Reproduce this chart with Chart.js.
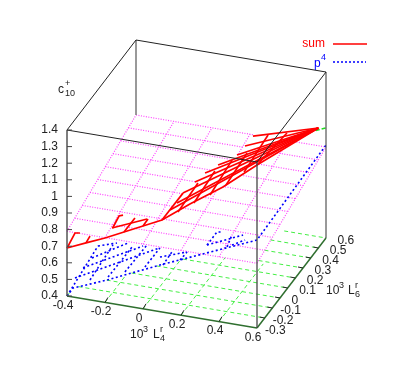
<!DOCTYPE html>
<html>
<head>
<meta charset="utf-8">
<script src="https://cdn.jsdelivr.net/npm/chart.js@4"></script>
<style>
  html, body { margin: 0; padding: 0; background: #fff; }
  canvas { display: block; }
</style>
</head>
<body>
<canvas id="surf" width="393" height="382"></canvas>
<script>
/* tick values */
const l4Ticks = [-0.4, -0.2, 0, 0.2, 0.4, 0.6];
const l6Ticks = [-0.3, -0.2, -0.1, 0, 0.1, 0.2, 0.3, 0.4, 0.5, 0.6];
const cTicks = [0.4, 0.5, 0.6, 0.7, 0.8, 0.9, 1, 1.1, 1.2, 1.3, 1.4];
const cBase = 0.4;
const cTop = 1.4;

/* sum surface, visible mesh lines: L4, L6 and c per line */
const sumL4 = [
  [-0.4, -0.3, -0.2, -0.1, 0, 0.1, 0.247, 0.421, 0.6, 0.6],
  [0.102, 0.6], [0.098, 0.6], [0.089, 0.6], [0.112, 0.6], [0.125, 0.6],
  [0.153, 0.6], [0.212, 0.6], [0.234, 0.6], [0.256, 0.6],
  [-0.4, -0.4, -0.374], [-0.3, -0.3], [-0.204, -0.019], [-0.2, -0.2, -0.179],
  [-0.1, -0.1], [0, 0],
  [0.1, 0.1], [0.184, 0.184], [0.268, 0.268], [0.353, 0.353], [0.437, 0.437],
  [0.532, 0.532], [0.6, 0.6]
];
const sumL6 = [
  [-0.3, -0.3, -0.3, -0.3, -0.3, -0.3, -0.3, -0.3, -0.3, 0.5],
  [-0.2, 0.5], [-0.1, 0.5], [0, 0.5], [0.1, 0.5], [0.2, 0.5],
  [0.3, 0.5], [0.4, 0.5], [0.45, 0.5], [0.5, 0.5],
  [-0.3, -0.196, -0.196], [-0.3, -0.248], [-0.2, -0.2], [-0.2, -0.117, -0.117],
  [-0.3, -0.157], [-0.3, -0.235],
  [-0.3, -0.026], [-0.3, -0.039], [-0.3, -0.026], [-0.3, -0.013], [-0.3, -0.026],
  [-0.3, 0.013], [-0.3, 0.091]
];
const sumC = [
  [0.689, 0.739, 0.788, 0.843, 0.899, 0.954, 1.079, 1.215, 1.382, 1.123],
  [0.955, 1.123], [0.936, 1.123], [0.934, 1.123], [0.945, 1.123], [0.941, 1.123],
  [0.934, 1.123], [0.946, 1.123], [0.974, 1.123], [1.008, 1.123],
  [0.689, 0.717, 0.722], [0.739, 0.749], [0.787, 0.877], [0.788, 0.81, 0.82],
  [0.843, 0.842], [0.899, 0.902],
  [0.954, 0.951], [1.019, 1.036], [1.089, 1.117], [1.154, 1.191], [1.23, 1.258],
  [1.326, 1.361], [1.382, 1.339]
];

/* p4 surface, visible mesh lines */
const p4L4 = [
  [-0.4, -0.368, -0.189, 0.089, 0.6, 0.6],
  [-0.4, -0.4], [-0.4, -0.084], [-0.4, 0.047], [-0.4, -0.211], [-0.4, -0.3],
  [-0.279, -0.279], [-0.184, -0.184], [-0.095, -0.095], [0.01, 0.01],
  [0.049, 0.191], [0.105, 0.105], [0.195, 0.195],
  [0.256, 0.446], [0.256, 0.256, 0.288], [0.422, 0.424], [0.448, 0.517]
];
const p4L6 = [
  [-0.3, -0.3, -0.3, -0.3, -0.3, 0.6],
  [-0.3, 0.104], [-0.091, -0.091], [-0.196, -0.196], [0.026, 0.026], [0.104, 0.104],
  [-0.3, 0], [-0.3, 0.013], [-0.3, -0.013], [-0.3, -0.104],
  [-0.2, -0.2], [-0.3, -0.183], [-0.3, -0.209],
  [-0.1, -0.1], [-0.1, 0.03, 0.03], [-0.25, -0.19], [-0.25, -0.25]
];
const p4C = [
  [0.4, 0.454, 0.537, 0.681, 0.93, 0.96],
  [0.4, 0.458], [0.444, 0.636], [0.446, 0.714], [0.433, 0.559], [0.458, 0.495],
  [0.52, 0.55], [0.556, 0.548], [0.604, 0.593], [0.654, 0.65],
  [0.661, 0.719], [0.684, 0.692], [0.731, 0.725],
  [0.713, 0.81], [0.713, 0.713, 0.719], [0.824, 0.86], [0.84, 0.884]
];

/* magenta surface: rows along L4, columns along L6, broken where the sum surface covers it */
const pinkL4 = [
  [-0.4, 0.6], [-0.4, 0.6], [-0.4, 0.6],
  [-0.4, 0.035], [0.088, 0.6], [-0.4, 0.046], [0.154, 0.6], [-0.4, 0.074], [0.217, 0.6],
  [-0.4, 0.111], [0.273, 0.6], [-0.4, 0.173], [0.313, 0.6], [-0.4, 0.206], [0.382, 0.6],
  [-0.4, 0.216], [0.431, 0.6],
  [-0.4, -0.4], [-0.2, -0.2], [0, 0], [0.2, 0.2], [0.2, 0.2], [0.4, 0.4], [0.6, 0.6]
];
const pinkL6 = [
  [-0.3, -0.3], [-0.2, -0.2], [-0.1, -0.1],
  [0, 0], [0, 0], [0.1, 0.1], [0.1, 0.1], [0.2, 0.2], [0.2, 0.2],
  [0.3, 0.3], [0.3, 0.3], [0.4, 0.4], [0.4, 0.4], [0.5, 0.5], [0.5, 0.5],
  [0.6, 0.6], [0.6, 0.6],
  [-0.3, 0.6], [-0.3, 0.6], [-0.3, 0.6], [-0.3, 0.165], [0.445, 0.6], [-0.3, 0.53], [-0.3, 0.6]
];
const pinkC = [
  [0.79, 0.79], [0.808, 0.808], [0.825, 0.825],
  [0.843, 0.843], [0.843, 0.843], [0.861, 0.861], [0.861, 0.861], [0.878, 0.878], [0.878, 0.878],
  [0.896, 0.896], [0.896, 0.896], [0.913, 0.913], [0.913, 0.913], [0.931, 0.931], [0.931, 0.931],
  [0.948, 0.948], [0.948, 0.948],
  [0.79, 0.948], [0.79, 0.948], [0.79, 0.948], [0.79, 0.872], [0.921, 0.948], [0.79, 0.936], [0.79, 0.948]
];

/* green base grid, only the part in sight */
const gridL4 = [
  [-0.4, -0.4], [-0.2, -0.2], [0, 0], [0.2, 0.2], [0.4, 0.4],
  [-0.38, 0.6], [-0.272, 0.6], [-0.181, 0.6], [-0.09, 0.6], [0.009, 0.6],
  [0.366, 0.6], [0.357, 0.6], [0.348, 0.6], [0.38, 0.6]
];
const gridL6 = [
  [-0.3, -0.26], [-0.3, -0.021], [-0.3, 0.198], [-0.3, 0.276], [-0.3, 0.277],
  [-0.2, -0.2], [-0.1, -0.1], [0, 0], [0.1, 0.1], [0.2, 0.2],
  [0.3, 0.3], [0.4, 0.4], [0.5, 0.5], [0.6, 0.6]
];
const tipL4 = [0.556, 0.6];
const tipL6 = [0.5, 0.6];
const tipC = [1.09, 1.063];

/* view: screen position of the box corner and the three axis directions */
function project(l4, l6, c) {
  const a = l4 + 0.4, b = l6 + 0.3, d = c - cBase;
  return { x: 67 + 190 * a + 76.67 * b, y: 296 + 32 * a - 100 * b - 166 * d };
}

function line(pts, color, width, dash) {
  return { data: pts, showLine: true, pointRadius: 0, borderColor: color, borderWidth: width, borderDash: dash || [], fill: false, tension: 0 };
}
function mesh(l4s, l6s, cs, color, width, dash) {
  return l4s.map((row, i) => line(row.map((v, j) => project(v, l6s[i][j], cs[i][j])), color, width, dash));
}
function edge(p, q, color, width) {
  return line([project(...p), project(...q)], color, width);
}
function nudge(p, dx, dy, color) {
  return line([p, { x: p.x + dx, y: p.y + dy }], color, 1);
}

const ink = '#222222';
const greenEdge = '#2f6f2f';
const datasets = [];

/* base grid */
datasets.push(...mesh(gridL4, gridL6, gridL4.map(r => r.map(() => cBase)), '#44ee44', 1, [4, 3]));
/* p4, then the magenta sheet, then sum */
datasets.push(...mesh(pinkL4, pinkL6, pinkC, '#ff44ff', 1.2, [1, 1.5]));
datasets.push(...mesh(p4L4, p4L6, p4C, '#0000ff', 1.6, [2, 2.5]));
datasets.push(line(tipL4.map((v, i) => project(v, tipL6[i], tipC[i])), '#22dd22', 1.6, [4, 2]));
datasets.push(...mesh(sumL4, sumL6, sumC, '#ff0000', 1.7));

/* box */
const [l0, l1] = [l4Ticks[0], l4Ticks[5]];
const [m0, m1] = [l6Ticks[0], l6Ticks[9]];
datasets.push(edge([l0, m0, cBase], [l1, m0, cBase], greenEdge, 1.5));
datasets.push(edge([l1, m0, cBase], [l1, m1, cBase], greenEdge, 1.5));
datasets.push(edge([l0, m0, cBase], [l0, m0, cTop], '#555555', 1.5));
datasets.push(edge([l1, m0, cBase], [l1, m0, cTop], '#444444', 1.3));
datasets.push(edge([l1, m1, cBase], [l1, m1, cTop], '#333333', 1));
datasets.push(edge([l0, m1, 0.948], [l0, m1, cTop], '#777777', 1.5));
datasets.push(edge([l0, m0, cTop], [l1, m0, cTop], ink, 1));
datasets.push(edge([l1, m0, cTop], [l1, m1, cTop], ink, 1));
datasets.push(edge([l1, m1, cTop], [l0, m1, cTop], ink, 1));
datasets.push(edge([l0, m1, cTop], [l0, m0, cTop], ink, 1));
/* tick marks */
cTicks.forEach(v => datasets.push(nudge(project(l0, m0, v), 5, 0, '#444444')));
l4Ticks.slice(1, 5).forEach(v => datasets.push(nudge(project(v, m0, cBase), 3, -5, ink)));
l6Ticks.slice(1, 9).forEach(v => datasets.push(nudge(project(l1, v, cBase), -5, -1, ink)));
/* legend samples */
datasets.push(line([{ x: 333, y: 44 }, { x: 367, y: 44 }], '#ff0000', 1.7));
datasets.push(line([{ x: 333, y: 62 }, { x: 366, y: 62 }], '#0000ff', 1.6, [2, 2]));

const FONT = '"Liberation Sans", Arial, sans-serif';

function put(ctx, str, x, y, size, align, color) {
  ctx.font = size + 'px ' + FONT;
  ctx.textAlign = align || 'left';
  ctx.textBaseline = 'middle';
  ctx.fillStyle = color || ink;
  ctx.fillText(str, x, y);
}

const labels = {
  id: 'labels',
  afterDatasetsDraw(chart) {
    const ctx = chart.ctx;
    ctx.save();
    cTicks.forEach(v => {
      const p = project(l0, m0, v);
      put(ctx, String(v), 58, p.y, 12, 'right');
    });
    l4Ticks.forEach(v => {
      const p = project(v, m0, cBase);
      put(ctx, String(v), p.x - 4, p.y + 9.5, 12, 'center');
    });
    l6Ticks.forEach(v => {
      const p = project(l1, v, cBase);
      put(ctx, String(v), p.x + (v < 0 ? 8 : 11.5), p.y + 2.5, 12, 'left');
    });
    /* axis titles */
    put(ctx, 'c', 58, 90, 12);
    put(ctx, '+', 65, 84, 9);
    put(ctx, '10', 65, 94, 9);
    put(ctx, '10', 130, 335, 12);
    put(ctx, '3', 143, 330, 9);
    put(ctx, 'L', 153, 335, 12);
    put(ctx, 'r', 160, 330, 9);
    put(ctx, '4', 160, 339, 9);
    put(ctx, '10', 326, 291, 12);
    put(ctx, '3', 339, 286, 9);
    put(ctx, 'L', 348, 291, 12);
    put(ctx, 'r', 355, 286, 9);
    put(ctx, '6', 355, 295, 9);
    /* legend */
    put(ctx, 'sum', 325, 44, 12, 'right', '#ff0000');
    put(ctx, 'p', 314, 64, 12, 'left', '#0000ff');
    put(ctx, '4', 321, 58, 9, 'left', '#0000ff');
    ctx.restore();
  }
};

new Chart(document.getElementById('surf'), {
  type: 'scatter',
  /* chart.js paints the first dataset on top, so flip the painting order */
  data: { datasets: datasets.reverse() },
  options: {
    responsive: false,
    animation: false,
    layout: { padding: 0 },
    plugins: { legend: { display: false }, tooltip: { enabled: false } },
    scales: {
      x: { type: 'linear', min: 0, max: 393, display: false },
      y: { type: 'linear', min: 0, max: 382, reverse: true, display: false }
    }
  },
  plugins: [labels]
});
</script>
</body>
</html>
